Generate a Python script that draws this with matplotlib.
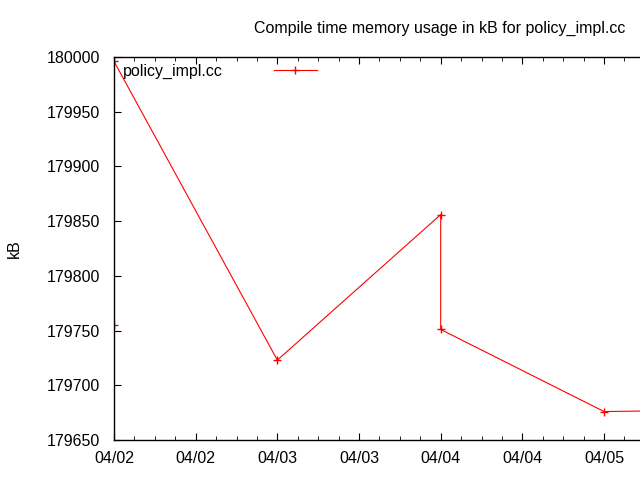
import datetime as dt
import matplotlib
matplotlib.use("Agg")
import matplotlib.pyplot as plt
import matplotlib.dates as mdates

plt.rcParams["font.family"] = ["Liberation Sans", "DejaVu Sans"]
plt.rcParams["font.size"] = 11.5

# Compile time memory (kB) per build
times = [
    dt.datetime(2011, 4, 2, 0), dt.datetime(2011, 4, 2, 0),
    dt.datetime(2011, 4, 3, 0),
    dt.datetime(2011, 4, 4, 0), dt.datetime(2011, 4, 4, 0),
    dt.datetime(2011, 4, 5, 0), dt.datetime(2011, 4, 6, 0),
]
memory_kb = [179755, 179996, 179723, 179856, 179751, 179676, 179678]

fig = plt.figure(figsize=(6.4, 4.8), dpi=100)
ax = fig.add_axes([114 / 640, 40 / 480, 1 - 114 / 640, 383 / 480])

ax.plot(times, memory_kb, color="red", linewidth=0.8, marker="+",
        markersize=6, markeredgewidth=1, label="policy_impl.cc")

ax.set_xlim(dt.datetime(2011, 4, 2, 0), dt.datetime(2011, 4, 2, 0) + dt.timedelta(days=3.22))
ax.set_ylim(179650, 180000)
ax.set_yticks(range(179650, 180001, 50))

ax.xaxis.set_major_locator(mdates.HourLocator(byhour=[0, 12]))
ax.xaxis.set_minor_locator(mdates.HourLocator(interval=3))
ax.xaxis.set_major_formatter(mdates.DateFormatter("%m/%d"))

ax.tick_params(which="both", direction="in", top=True, right=False)
ax.tick_params(which="major", length=5)
ax.tick_params(which="minor", length=3)
ax.tick_params(axis="x", pad=8)
ax.tick_params(axis="y", pad=10)
ax.spines["right"].set_visible(False)
for s in ax.spines.values():
    s.set_linewidth(1)

fig.text(14 / 640, 1 - 249 / 480, "kB", rotation=90, ha="center", va="center")
fig.text(625 / 640, 1 - 28 / 480, "Compile time memory usage in kB for policy_impl.cc",
         ha="right", va="center")

leg = ax.legend(loc="upper left", bbox_to_anchor=(0.0, 1.005), frameon=False,
                markerfirst=False, handlelength=2.7, handletextpad=3.2,
                borderaxespad=0.15)

fig.savefig("out.png", dpi=100)
